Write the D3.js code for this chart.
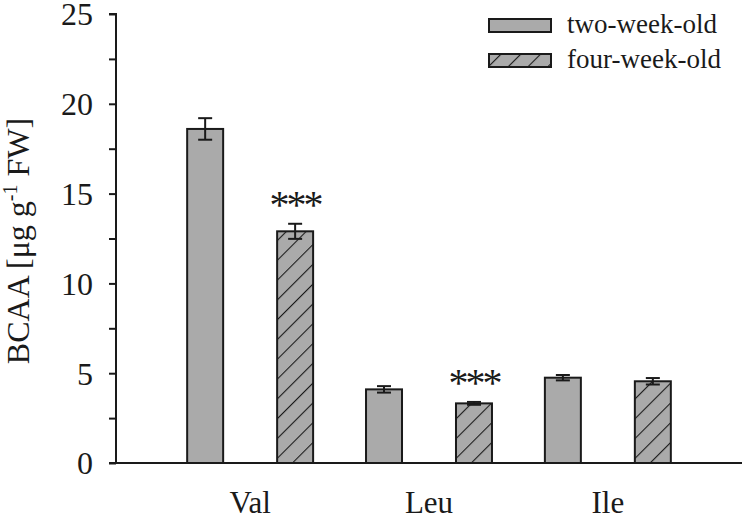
<!DOCTYPE html>
<html>
<head>
<meta charset="utf-8">
<script src="https://cdn.jsdelivr.net/npm/d3@7"></script>
<style>
  html, body { margin: 0; padding: 0; background: #fff; }
  svg { display: block; }
  text { font-family: "Liberation Serif", "Times New Roman", serif; fill: #1a1a1a; }
</style>
</head>
<body>
<svg id="chart" width="746" height="519"></svg>
<script>
const categories = ["Val", "Leu", "Ile"];
const seriesNames = ["two-week-old", "four-week-old"];
const twoWeek = [18.6, 4.1, 4.75];
const twoWeekErr = [0.6, 0.18, 0.15];
const fourWeek = [12.9, 3.32, 4.55];
const fourWeekErr = [0.42, 0.08, 0.18];
const significance = ["***", "***", ""];
const yTicks = [0, 5, 10, 15, 20, 25];
const yMinorTicks = [2.5, 7.5, 12.5, 17.5, 22.5];

(function () {
const ink = "#1a1a1a";
const barFill = "#aaaaaa";

const svg = d3.select("#chart");
const pLeft = 116, pRight = 742, pTop = 14, pBottom = 463;

const defs = svg.append("defs");
const pat = defs.append("pattern")
  .attr("id", "hatch")
  .attr("patternUnits", "userSpaceOnUse")
  .attr("width", 14).attr("height", 14)
  .attr("patternTransform", "rotate(45)");
pat.append("rect").attr("width", 14).attr("height", 14).attr("fill", barFill);
pat.append("line").attr("x1", 0).attr("y1", -2).attr("x2", 0).attr("y2", 16)
  .attr("stroke", ink).attr("stroke-width", 2.2);

const x0 = d3.scaleBand().domain(categories).range([pLeft, pRight]).paddingInner(0).paddingOuter(0.25);
const x1 = d3.scaleBand().domain(seriesNames).range([0, x0.bandwidth()]).paddingInner(0.6).paddingOuter(0.294);
const y = d3.scaleLinear().domain([0, 25]).range([pBottom, pTop]);

const rows = categories.map((c, i) => ({
  cat: c,
  vals: [
    { s: seriesNames[0], v: twoWeek[i], e: twoWeekErr[i], sig: "" },
    { s: seriesNames[1], v: fourWeek[i], e: fourWeekErr[i], sig: significance[i] }
  ]
}));

const groups = svg.append("g").selectAll("g").data(rows).join("g")
  .attr("transform", d => `translate(${x0(d.cat)},0)`);

const bars = groups.selectAll("g.bar").data(d => d.vals).join("g").attr("class", "bar");
bars.append("rect")
  .attr("x", d => x1(d.s))
  .attr("y", d => y(d.v))
  .attr("width", x1.bandwidth())
  .attr("height", d => y(0) - y(d.v))
  .attr("fill", d => d.s === seriesNames[0] ? barFill : "url(#hatch)")
  .attr("stroke", ink).attr("stroke-width", 2);

const cap = 7;
const cx = d => x1(d.s) + x1.bandwidth() / 2;
bars.append("line")
  .attr("x1", cx).attr("x2", cx)
  .attr("y1", d => y(d.v + d.e)).attr("y2", d => y(d.v - d.e))
  .attr("stroke", ink).attr("stroke-width", 2);
bars.append("line")
  .attr("x1", d => cx(d) - cap).attr("x2", d => cx(d) + cap)
  .attr("y1", d => y(d.v + d.e)).attr("y2", d => y(d.v + d.e))
  .attr("stroke", ink).attr("stroke-width", 2);
bars.append("line")
  .attr("x1", d => cx(d) - cap).attr("x2", d => cx(d) + cap)
  .attr("y1", d => y(d.v - d.e)).attr("y2", d => y(d.v - d.e))
  .attr("stroke", ink).attr("stroke-width", 2);
bars.filter(d => d.sig).append("text")
  .attr("x", cx)
  .attr("y", d => y(d.v + d.e) - 6)
  .attr("text-anchor", "middle")
  .attr("font-size", 40)
  .attr("letter-spacing", -3)
  .text(d => d.sig);

// y axis
const yAxis = d3.axisLeft(y).tickValues(yTicks).tickSize(7).tickPadding(16).tickFormat(d3.format("d"));
const yG = svg.append("g").attr("transform", `translate(${pLeft},0)`).call(yAxis);
yG.select(".domain").attr("stroke", ink).attr("stroke-width", 2).attr("d", `M-7,${pTop}H0V${pBottom}`);
yG.selectAll(".tick line").attr("stroke", ink).attr("stroke-width", 2);
yG.selectAll(".tick text").attr("font-size", 32).attr("font-family", "Liberation Serif").attr("fill", ink).attr("dy", "0.34em");
const yMinor = d3.axisLeft(y).tickValues(yMinorTicks).tickSize(7).tickFormat("");
const yM = svg.append("g").attr("transform", `translate(${pLeft},0)`).call(yMinor);
yM.select(".domain").remove();
yM.selectAll(".tick line").attr("stroke", ink).attr("stroke-width", 2);

// x axis
const xAxis = d3.axisBottom(x0).tickSize(0).tickPadding(0);
const xG = svg.append("g").attr("transform", `translate(0,${pBottom})`).call(xAxis);
xG.select(".domain").attr("stroke", ink).attr("stroke-width", 2).attr("d", `M${pLeft - 7},0H${pRight}`);
xG.selectAll(".tick text").attr("font-size", 31).attr("font-family", "Liberation Serif").attr("fill", ink)
  .attr("y", 49.5).attr("dy", 0);

// y title
const title = svg.append("text")
  .attr("transform", "translate(29,241) rotate(-90)")
  .attr("text-anchor", "middle")
  .attr("font-size", 32);
title.append("tspan").text("BCAA [μg g");
title.append("tspan").attr("font-size", 20).attr("dy", -12).text("-1");
title.append("tspan").attr("dy", 12).text(" FW]");

// legend
const legend = svg.append("g");
const legY = [19, 54];
seriesNames.forEach((s, i) => {
  legend.append("rect")
    .attr("x", 489).attr("y", legY[i]).attr("width", 62).attr("height", 13)
    .attr("fill", i === 0 ? barFill : "url(#hatch)")
    .attr("stroke", ink).attr("stroke-width", 2);
  legend.append("text")
    .attr("x", 567).attr("y", legY[i] + 14)
    .attr("font-size", 27)
    .text(s);
});
})();
</script>
</body>
</html>
